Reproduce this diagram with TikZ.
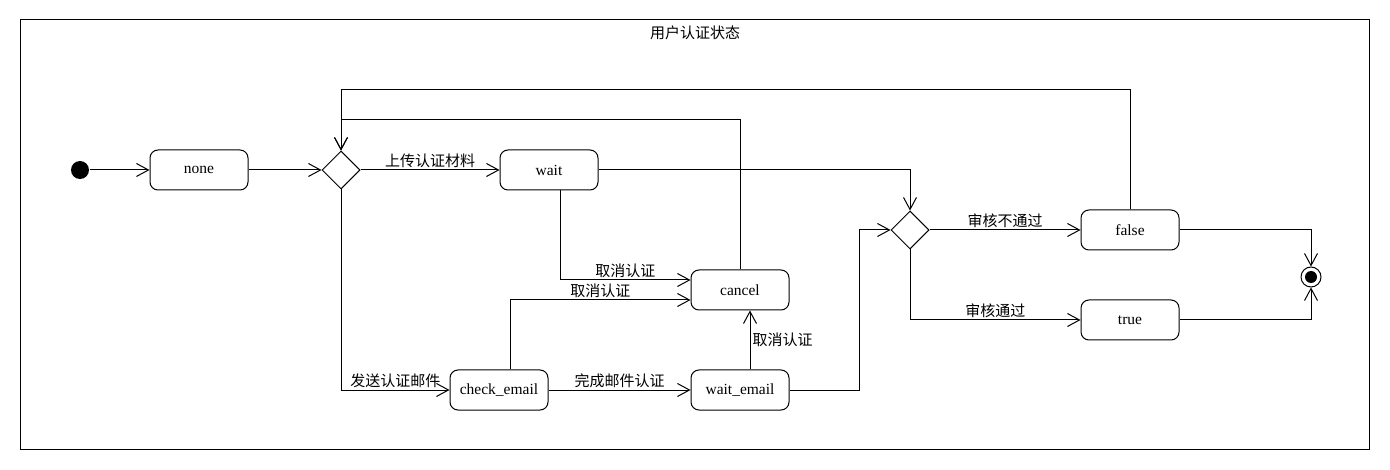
\documentclass[tikz,border=0pt]{standalone}
\usepackage{fontspec}
\setmainfont{Liberation Serif}
\newfontfamily\cjk{Noto Sans CJK SC}
\usetikzlibrary{shapes.geometric,arrows.meta,positioning}
\tikzstyle{state} = [rectangle, draw, rounded corners=8pt, minimum width=98pt, minimum height=40pt, inner sep=0pt]
\tikzstyle{choice} = [diamond, draw, aspect=1, minimum width=38pt, minimum height=38pt, inner sep=0pt]
\tikzstyle{start} = [circle, fill=black, minimum size=18pt, inner sep=0pt]
\tikzstyle{stop} = [circle, draw, minimum size=20pt, inner sep=0pt, path picture={\fill (path picture bounding box.center) circle (6pt);}]
\tikzstyle{line} = [draw, -{Straight Barb[length=12pt,width=13pt]}]
\tikzstyle{lbl} = [font=\fontsize{15}{18}\selectfont\cjk, inner sep=2pt]

\begin{document}
\begin{tikzpicture}[x=1pt, y=-1pt, line width=1pt, font=\fontsize{15.5}{18}\selectfont]
    \useasboundingbox (0,0) rectangle (1390,470);
    % Frame
    \draw (20,20) rectangle (1369,449);
    \node [lbl] (title) at (695,33) {用户认证状态};
    % Place nodes
    \node [start] (init) at (80,170) {};
    \node [state] (none) at (199,170) {none};
    \node [choice] (d1) at (341,170) {};
    \node [state] (wait) at (549,170) {wait};
    \node [state] (cancel) at (740,290) {cancel};
    \node [state] (checkemail) at (499,390) {check\_email};
    \node [state] (waitemail) at (740,390) {wait\_email};
    \node [choice] (d2) at (910,230) {};
    \node [state] (false) at (1130,230) {false};
    \node [state] (true) at (1130,320) {true};
    \node [stop] (final) at (1311,277) {};
    % Draw edges
    \path [line] (init) -- (none);
    \path [line] (none) -- (d1);
    \path [line] (d1) -- node [lbl, above] {上传认证材料} (wait);
    \path [line] (d1.south) |- node [lbl, above, pos=0.75] {发送认证邮件} (checkemail);
    \path [line] (wait.east) -| (d2.north);
    \path [line] ([xshift=11pt]wait.south) |- node [lbl, above, pos=0.75] {取消认证} ([yshift=10pt]cancel.west);
    \path [line] ([xshift=11pt]checkemail.north) |- node [lbl, above, pos=0.75] {取消认证} ([yshift=-10pt]cancel.west);
    \path [line] ([xshift=10pt]waitemail.north) -- node [lbl, right] {取消认证} ([xshift=10pt]cancel.south);
    \path [line] (checkemail) -- node [lbl, above] {完成邮件认证} (waitemail);
    \path [line] (waitemail.east) -- ++(70,0) |- (d2.west);
    \path [line] (d2) -- node [lbl, above] {审核不通过} (false);
    \path [line] (d2.south) |- node [lbl, above, pos=0.75] {审核通过} (true);
    \path [line] (false.east) -| (final.north);
    \path [line] (true.east) -| (final.south);
    \path [line] (false.north) -- ++(0,-120) -| (d1.north);
    \path [line] (cancel.north) -- ++(0,-150) -| (d1.north);
\end{tikzpicture}
\end{document}
